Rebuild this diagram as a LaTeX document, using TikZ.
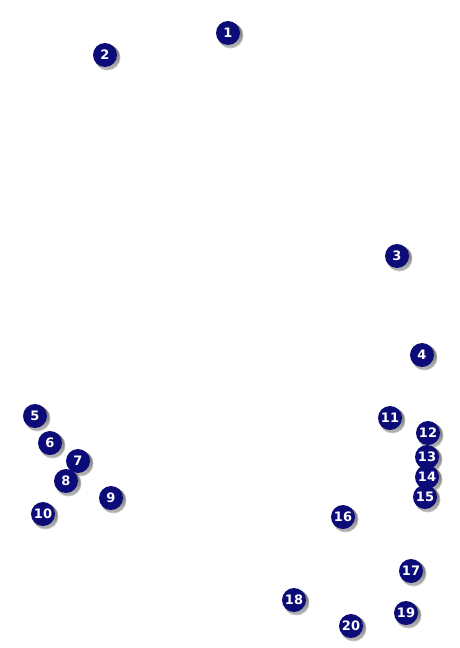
\documentclass[tikz,border=0pt]{standalone}
\usepackage{fontspec}
\newfontfamily\badgefont{DejaVu Sans}
\definecolor{badge}{RGB}{12,12,120}
\definecolor{shade}{RGB}{150,150,150}
\tikzset{
  badgenode/.style={circle, fill=badge, minimum size=24pt, inner sep=0pt,
    text=white, font=\badgefont\bfseries\fontsize{13}{13}\selectfont}
}
\newcommand{\badgeat}[3]{%
  \fill[shade, opacity=0.35] (#1+2.5,#2+2.5) circle (12.8);
  \fill[shade, opacity=0.6] (#1+2,#2+2) circle (12);
  \node[badgenode] (n#3) at (#1,#2) {#3};
}
\begin{document}
\begin{tikzpicture}[x=1pt,y=-1pt]
\useasboundingbox[fill=white] (0,0) rectangle (459,648);
\badgeat{228}{33}{1}
\badgeat{105}{55}{2}
\badgeat{397}{256}{3}
\badgeat{422}{355}{4}
\badgeat{35}{416}{5}
\badgeat{50}{443}{6}
\badgeat{78}{461}{7}
\badgeat{66}{481}{8}
\badgeat{111}{498}{9}
\badgeat{43}{514}{10}
\badgeat{390}{418}{11}
\badgeat{428}{433}{12}
\badgeat{427}{457}{13}
\badgeat{427}{477}{14}
\badgeat{425}{497}{15}
\badgeat{343}{517}{16}
\badgeat{411}{571}{17}
\badgeat{294}{600}{18}
\badgeat{406}{613}{19}
\badgeat{351}{626}{20}
\end{tikzpicture}
\end{document}
